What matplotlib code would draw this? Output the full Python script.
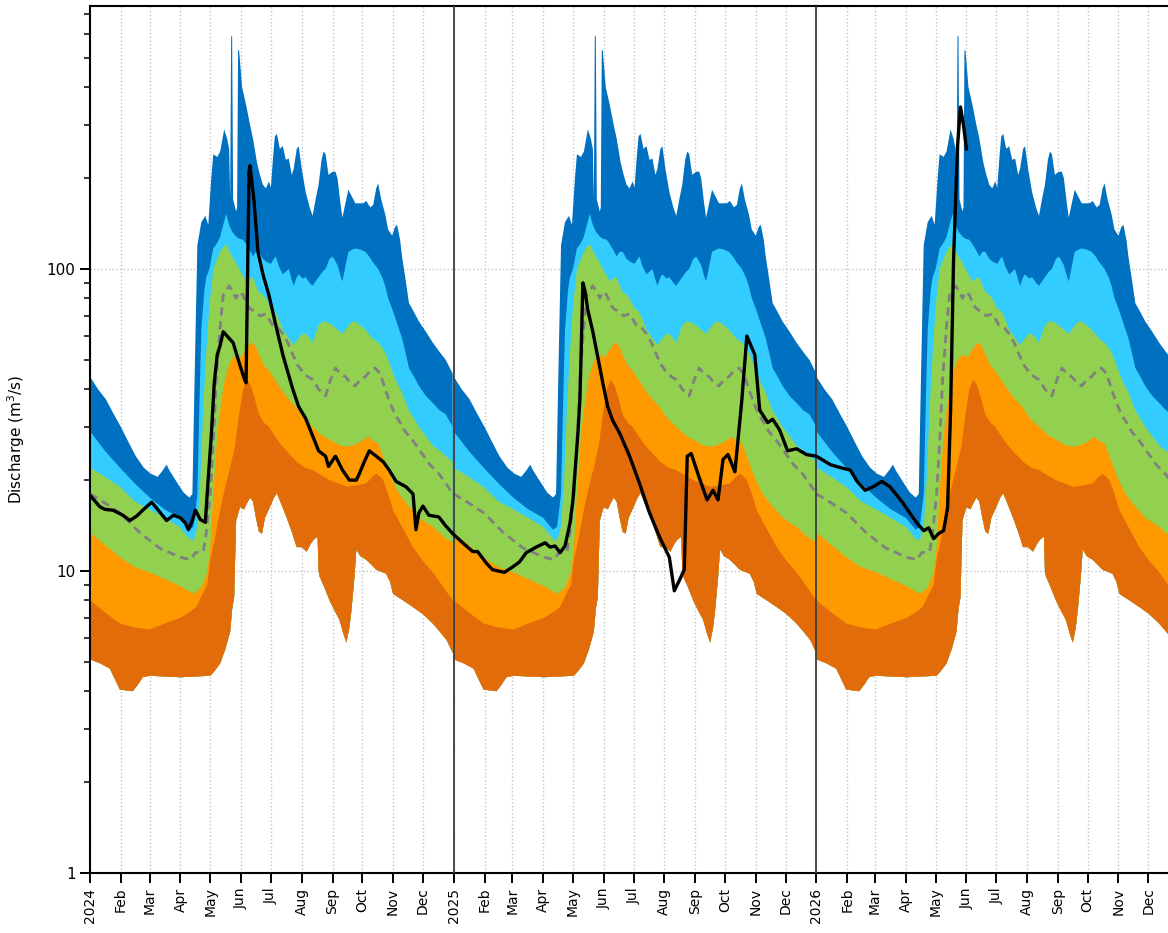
import datetime as dt
import numpy as np
import matplotlib
matplotlib.use('Agg')
import matplotlib.pyplot as plt
import matplotlib.dates as mdates
from matplotlib.ticker import FuncFormatter, NullFormatter, LogLocator

# CLIMATOLOGY: day of year -> discharge (m3/s)
max_doy = [0, 8, 16, 24, 31, 38, 46, 54, 61, 68, 73, 77, 80, 86, 94, 100, 103, 105, 108, 112,
           116, 119, 122, 124, 128, 131, 135, 138, 140, 141, 142, 143, 144, 147, 148, 149, 150,
           153, 157, 161, 164, 168, 171, 174, 177, 180, 182, 184, 186, 188, 191, 194, 197, 200,
           203, 205, 208, 210, 213, 217, 221, 224, 227, 230, 233, 235, 237, 240, 244, 247, 249,
           252, 254, 257, 260, 263, 267, 271, 275, 278, 282, 285, 288, 290, 293, 297, 300, 304,
           307, 309, 312, 314, 318, 321, 326, 331, 338, 345, 352, 358, 365]
max_q = [44, 40, 37, 33, 30, 27, 24, 22, 21, 20.5, 21.5, 22.5, 21.5, 20, 18.2, 17.5, 18, 40, 120, 143,
         150, 140, 200, 240, 235, 245, 290, 270, 250, 170, 590, 590, 170, 155, 160, 530, 530,
         400, 350, 300, 270, 225, 205, 190, 185, 195, 186, 230, 275, 280, 250, 255, 230, 232,
         205, 215, 250, 255, 215, 180, 160, 150, 170, 190, 230, 245, 240, 205, 210, 210, 200,
         165, 148, 165, 183, 175, 165, 165, 165, 168, 160, 163, 185, 192, 170, 152, 135, 129,
         138, 140, 125, 110, 90, 77, 72, 67, 62, 57, 53, 50, 45]

p90_doy = [0, 15, 30, 45, 60, 75, 90, 100, 104, 108, 110, 112, 115, 117, 120, 124, 128, 131, 134,
           137, 140, 143, 147, 150, 154, 157, 161, 164, 167, 170, 174, 177, 182, 185, 187, 190,
           194, 197, 200, 203, 205, 208, 210, 214, 217, 221, 224, 227, 230, 234, 237, 241, 244,
           247, 249, 252, 254, 257, 260, 264, 267, 272, 277, 281, 284, 287, 290, 294, 297, 300,
           304, 309, 314, 318, 321, 326, 331, 338, 345, 352, 358, 365]
p90_q = [29, 25, 22, 19.5, 17.5, 16, 15, 13.7, 14, 18, 35, 63, 85, 94, 100, 117, 122, 128, 140,
         152, 140, 133, 128, 126, 125, 121, 115, 110, 114, 114, 108, 106, 104, 108, 110, 102,
         96, 98, 100, 92, 88, 94, 96, 93, 94, 90, 88, 91, 94, 98, 100, 108, 110,
         106, 103, 95, 91, 102, 114, 116, 117, 116, 114, 110, 106, 103, 100, 94, 88, 80,
         74, 66, 59, 52, 47, 44, 41, 38, 36, 34, 33, 30]

p75_doy = [0, 15, 30, 45, 60, 75, 90, 100, 104, 108, 111, 114, 117, 120, 124, 128, 131, 134, 137,
           140, 143, 147, 150, 154, 157, 161, 164, 167, 170, 174, 177, 182, 187, 190, 194, 197,
           200, 205, 210, 214, 217, 221, 224, 227, 230, 234, 237, 241, 244, 249, 254, 257, 260,
           264, 267, 272, 277, 284, 290, 294, 297, 300, 304, 309, 314, 318, 321, 326, 331, 338,
           345, 352, 358, 365]
p75_q = [22, 20.5, 19, 17, 16, 15, 14, 12.8, 12.6, 14, 20, 35, 53, 75, 100, 108, 114, 118, 121,
         115, 110, 105, 100, 95, 91, 93, 94, 88, 84, 82, 80, 74, 72, 68, 63, 61,
         59, 56, 59, 61, 61, 59, 57, 61, 65, 67, 67, 66, 65, 63, 61, 63, 65,
         67, 67, 65, 63, 59, 57, 55, 53, 50, 46, 42, 39, 36, 34, 32, 30, 28,
         26, 25, 24, 23]

med_doy = [0, 15, 30, 50, 70, 91, 101, 106, 114, 117, 121, 124, 127, 131, 134, 137, 140, 144, 147,
           150, 154, 158, 161, 166, 171, 177, 184, 189, 194, 199, 204, 209, 214, 219, 224, 230,
           237, 242, 247, 252, 257, 262, 267, 272, 277, 282, 287, 292, 297, 302, 307, 312, 317,
           325, 334, 342, 351, 358, 365]
med_q = [18, 16.8, 15.6, 13.4, 11.9, 11.1, 10.9, 11.5, 11.6, 13.4, 18, 26.5, 43, 65, 82, 85, 88, 84, 80,
         84, 82, 76, 74, 72, 70, 71, 65, 64, 61, 57, 52, 48, 45.6, 44, 43, 40,
         38, 43, 47, 45, 44, 42, 41, 43, 44, 46, 47, 45, 40, 36, 33, 31, 29,
         27, 24.5, 22.5, 21, 19.5, 18]

p25_doy = [0, 15, 30, 45, 60, 75, 91, 104, 112, 118, 121, 124, 128, 131, 135, 138, 142, 147, 152,
           157, 162, 166, 170, 175, 180, 186, 192, 200, 207, 215, 224, 234, 243, 252, 260, 270,
           280, 284, 290, 297, 304, 311, 320, 331, 345, 358, 365]
p25_q = [13.4, 12.2, 11.1, 10.3, 9.9, 9.4, 8.9, 8.4, 8.8, 9.9, 12, 18, 28, 34, 42, 46, 50, 52, 51,
         54, 57, 56, 52, 48, 46, 43, 40, 37, 35, 32, 30, 28, 27, 26, 25.8, 26.5,
         27.8, 27, 26.5, 23, 20, 18, 16.5, 15, 14, 12.8, 12.5]

p10_doy = [0, 15, 30, 45, 60, 75, 91, 100, 107, 114, 118, 121, 126, 131, 136, 141, 146, 150, 154,
           158, 162, 166, 170, 175, 180, 186, 191, 200, 208, 216, 224, 232, 241, 250, 258, 268,
           278, 284, 288, 292, 295, 300, 305, 315, 325, 335, 345, 355, 365]
p10_q = [8.0, 7.3, 6.7, 6.5, 6.4, 6.7, 7.0, 7.3, 7.6, 8.5, 9.0, 10.9, 13, 16, 19, 22, 26, 33, 40,
         43, 41, 37, 33, 31, 30, 28, 26.5, 24.5, 23, 22, 21.6, 20.8, 20, 19.5, 19, 19.2,
         19.5, 20.5, 21, 20.5, 20, 18, 15.9, 13.8, 12, 10.8, 9.9, 8.9, 8.0]

min_doy = [0, 10, 20, 30, 43, 48, 53, 60, 91, 121, 126, 131, 136, 141, 143, 145, 146, 147, 151,
           155, 158, 161, 164, 167, 170, 173, 176, 181, 185, 188, 193, 198, 203, 208, 213, 218,
           222, 225, 229, 230, 231, 236, 241, 246, 251, 255, 258, 261, 263, 266, 268, 272, 278,
           283, 288, 298, 302, 305, 315, 325, 335, 345, 352, 359, 365]
min_q = [5.1, 4.95, 4.75, 4.05, 4.0, 4.2, 4.45, 4.5, 4.45, 4.5, 4.7, 4.95, 5.5, 6.3, 7.5, 8.2, 11, 14.7, 16.3,
         16, 16.8, 17.5, 17, 15, 13.5, 13.3, 15, 16.3, 17.5, 18.1, 16.5, 15, 13.5, 12, 12, 11.6,
         12.3, 12.7, 13, 10, 9.6, 8.8, 8, 7.4, 6.9, 6.2, 5.8, 6.5, 7.4, 9.5, 11.8, 11.2, 10.9,
         10.5, 10.1, 9.8, 9.2, 8.4, 8.0, 7.6, 7.2, 6.7, 6.3, 5.9, 5.35]

# OBSERVED DISCHARGE
obs_dates = ['2024-01-01', '2024-01-11', '2024-01-16', '2024-01-24', '2024-02-03', '2024-02-10',
             '2024-02-17', '2024-02-23', '2024-03-03', '2024-03-09', '2024-03-18', '2024-03-25',
             '2024-04-01', '2024-04-06', '2024-04-09', '2024-04-13', '2024-04-16', '2024-04-21',
             '2024-04-26', '2024-04-29', '2024-05-02', '2024-05-05', '2024-05-08', '2024-05-11',
             '2024-05-14', '2024-05-24', '2024-05-30', '2024-06-04', '2024-06-06', '2024-06-09',
             '2024-06-10', '2024-06-14', '2024-06-18', '2024-06-23', '2024-06-29', '2024-07-06',
             '2024-07-13', '2024-07-23', '2024-07-29', '2024-08-05', '2024-08-12', '2024-08-18',
             '2024-08-25', '2024-08-28', '2024-09-04', '2024-09-11', '2024-09-18', '2024-09-25',
             '2024-09-28', '2024-10-03', '2024-10-08', '2024-10-15', '2024-10-22', '2024-10-28',
             '2024-11-04', '2024-11-14', '2024-11-21', '2024-11-24', '2024-11-27', '2024-12-01',
             '2024-12-07', '2024-12-17', '2024-12-24', '2024-12-31',
             '2025-01-10', '2025-01-20', '2025-01-25', '2025-02-03', '2025-02-09', '2025-02-21',
             '2025-03-01', '2025-03-08', '2025-03-15', '2025-03-25', '2025-04-03', '2025-04-08',
             '2025-04-13', '2025-04-18', '2025-04-23', '2025-04-28', '2025-05-01', '2025-05-06',
             '2025-05-08', '2025-05-11', '2025-05-13', '2025-05-16', '2025-05-21', '2025-05-26',
             '2025-05-31', '2025-06-05', '2025-06-10', '2025-06-17', '2025-06-27', '2025-07-07',
             '2025-07-17', '2025-07-27', '2025-08-06', '2025-08-11', '2025-08-16', '2025-08-21',
             '2025-08-24', '2025-08-28', '2025-09-05', '2025-09-13', '2025-09-19', '2025-09-24',
             '2025-09-29', '2025-10-04', '2025-10-11', '2025-10-14', '2025-10-18', '2025-10-23',
             '2025-10-31', '2025-11-05', '2025-11-07', '2025-11-13', '2025-11-18', '2025-11-25',
             '2025-12-03', '2025-12-12', '2025-12-22',
             '2026-01-01', '2026-01-15', '2026-01-25', '2026-02-04', '2026-02-11', '2026-02-19',
             '2026-02-27', '2026-03-08', '2026-03-16', '2026-03-23', '2026-03-29', '2026-04-06',
             '2026-04-13', '2026-04-19', '2026-04-24', '2026-04-29', '2026-05-04', '2026-05-09',
             '2026-05-13', '2026-05-16', '2026-05-19', '2026-05-23', '2026-05-26', '2026-05-29',
             '2026-06-01']
obs_q = [17.8, 16.3, 16.0, 15.9, 15.3, 14.7,
         15.2, 15.9, 16.9, 16.0, 14.7, 15.3,
         15.0, 14.4, 13.7, 14.7, 15.9, 14.8,
         14.5, 20.4, 28, 42, 52, 56,
         62, 57, 49, 43.5, 42, 210,
         220, 168, 114, 96, 82, 65,
         52, 40, 35, 32, 28, 25,
         24, 22.2, 24, 21.6, 20, 20,
         21, 23, 25, 24, 23, 21.6,
         19.8, 19, 18, 13.7, 15.6, 16.4,
         15.3, 15.1, 14.1, 13.3,
         12.4, 11.6, 11.6, 10.6, 10.1, 9.9,
         10.3, 10.7, 11.5, 12.0, 12.4, 12.0,
         12.1, 11.5, 12.1, 14.4, 17.2, 28.7,
         37, 90, 85, 73, 62, 51,
         42, 35, 31.5, 28.6, 24, 19.5,
         15.6, 13, 11.1, 8.6, 9.3, 10.1,
         24, 24.5, 20.4, 17.2, 18.5, 17.2,
         23.4, 24.3, 21.3, 27, 37, 60,
         52, 34, 33.3, 31, 31.8, 29.3,
         25, 25.4, 24.3,
         24, 22.5, 22, 21.6, 19.8, 18.5,
         19, 19.8, 19, 17.8, 16.8, 15.4,
         14.3, 13.6, 13.9, 12.8, 13.3, 13.6,
         16.2, 33.5, 107, 255, 344, 300,
         250]

years = [2024, 2025, 2026]
band_colors = ['#0070c0', '#33ccff', '#92d050', '#ff9900', '#e36c0a']
curves = [(max_doy, max_q), (p90_doy, p90_q), (p75_doy, p75_q),
          (p25_doy, p25_q), (p10_doy, p10_q)]

fig = plt.figure(figsize=(11.68, 9.33), dpi=100)
ax = fig.add_axes([0.0771, 0.0643, 0.9324, 0.9293])

for yr in years:
    t0 = mdates.date2num(dt.datetime(yr, 1, 1))
    lo_x = t0 + np.array(min_doy, dtype=float)
    lo_y = np.array(min_q, dtype=float)
    # each band is filled down to the minimum, top band first
    for (d, q), c in zip(curves, band_colors):
        xs = np.concatenate([t0 + np.array(d, dtype=float), lo_x[::-1]])
        ys = np.concatenate([np.array(q, dtype=float), lo_y[::-1]])
        ax.fill(xs, ys, color=c, lw=0, zorder=1)
    ax.plot(t0 + np.array(med_doy, dtype=float), med_q, color='#808080', lw=2,
            ls=(0, (3, 2)), zorder=3)

obs_x = mdates.date2num([dt.datetime.strptime(s, '%Y-%m-%d') for s in obs_dates])
ax.plot(obs_x, obs_q, color='black', lw=2.4, zorder=4, solid_joinstyle='round')

for yr in [2025, 2026]:
    ax.axvline(mdates.date2num(dt.datetime(yr, 1, 1)), color='#3c3c3c', lw=1.3, zorder=3)

ax.set_yscale('log')
ax.set_ylim(1, 743)
ax.set_xlim(mdates.date2num(dt.datetime(2024, 1, 1)), mdates.date2num(dt.datetime(2027, 1, 1)))

ax.yaxis.set_major_locator(LogLocator(base=10))
ax.yaxis.set_major_formatter(FuncFormatter(lambda v, p: f'{v:g}'))
ax.yaxis.set_minor_locator(LogLocator(base=10, subs=np.arange(2, 10)))
ax.yaxis.set_minor_formatter(NullFormatter())


def month_label(v, pos):
    d = mdates.num2date(v)
    if d.year > 2026:
        return ''
    return str(d.year) if d.month == 1 else d.strftime('%b')


ax.xaxis.set_major_locator(mdates.MonthLocator())
ax.xaxis.set_major_formatter(FuncFormatter(month_label))
plt.setp(ax.get_xticklabels(), rotation=90)

ax.set_axisbelow(True)
ax.grid(True, which='major', axis='both', ls=':', color='#c4c4c4', lw=1)

ax.tick_params(axis='both', which='major', length=7, width=1.4, direction='out')
ax.tick_params(axis='y', which='minor', length=4, width=1.1)
ax.tick_params(axis='x', labelsize=10)
ax.tick_params(axis='y', labelsize=11)
for s in ['top', 'left', 'bottom']:
    ax.spines[s].set_linewidth(1.5)
ax.spines['right'].set_visible(False)

ax.set_ylabel('Discharge (m$^3$/s)', fontsize=11, labelpad=14)

fig.savefig('out.png', dpi=100)
